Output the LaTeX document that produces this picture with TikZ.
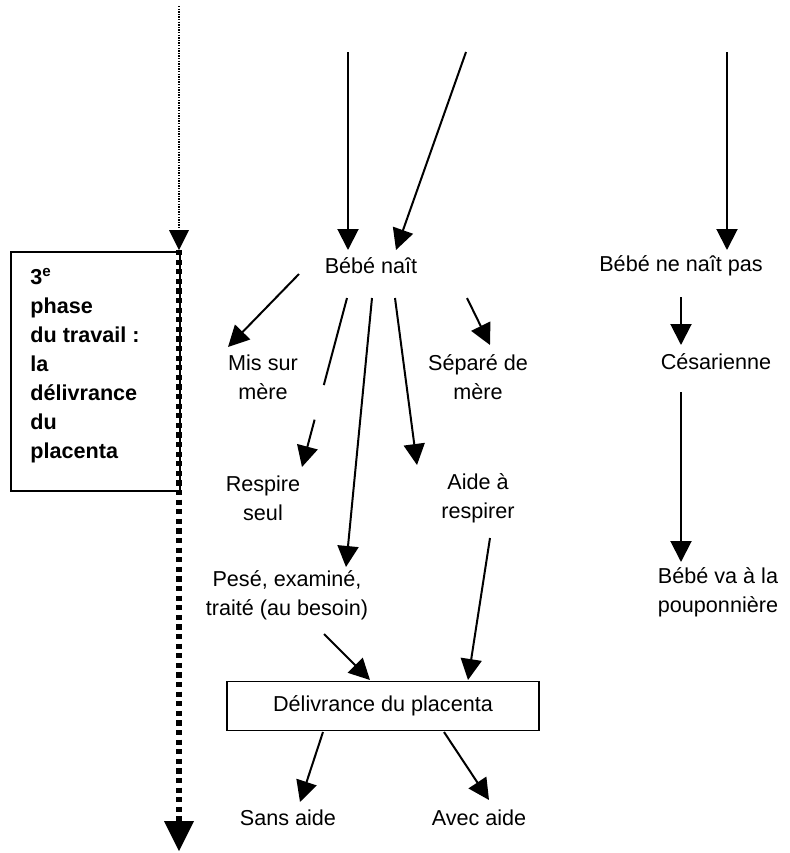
\documentclass[tikz,border=0pt]{standalone}
\usepackage{fontspec}
\setmainfont{Liberation Sans}
\usetikzlibrary{arrows.meta,calc}

\tikzset{
  lbl/.style={align=center, inner sep=0pt, font=\fontsize{10.8}{14.5}\selectfont},
  arr/.style={line width=1pt, -{Triangle[width=10.5pt,length=10.5pt]}},
}

\begin{document}
\begin{tikzpicture}[x=0.5pt, y=-0.5pt]
        \useasboundingbox (0,0) rectangle (790,853);

        % Time line: third phase of labour
        \coordinate (tl0) at (179,6);
        \coordinate (tl1) at (179,250);
        \coordinate (tl2) at (179,851);
        \draw[line width=0.9pt, dash pattern=on 0.7pt off 0.6pt,
              -{Triangle[width=10pt,length=10pt,line width=0pt]}] (tl0) -- (tl1);
        \node[draw, line width=0.8pt, anchor=north west, minimum width=84.5pt,
              minimum height=119.5pt, inner sep=0pt] (phase) at (10,251) {};
        \node[anchor=north west, align=left, inner sep=0pt,
              font=\bfseries\fontsize{10.8}{14.5}\selectfont] (phasetxt) at (30,268)
              {3\textsuperscript{e}\\phase\\du travail :\\la\\délivrance\\du\\placenta};
        \draw[line width=2.6pt, dash pattern=on 2.6pt off 2.2pt,
              -{Triangle[width=15pt,length=15pt,line width=0pt]}] (tl1) -- (tl2);

        % Nodes
        \node[lbl] (bn)    at (371,266) {Bébé naît};
        \node[lbl] (bnp)   at (681,266) {Bébé ne naît pas};
        \node[lbl] (mis)   at (263,377) {Mis sur\\mère};
        \node[lbl] (sep)   at (478,377) {Séparé de\\mère};
        \node[lbl] (cesar) at (716,362) {Césarienne};
        \node[lbl] (resp)  at (263,498) {Respire\\seul};
        \node[lbl] (aide)  at (478,498) {Aide à\\respirer};
        \node[lbl] (pese)  at (287,595) {Pesé, examiné,\\traité (au besoin)};
        \node[lbl] (poup)  at (718,592) {Bébé va à la\\pouponnière};
        \node[lbl, draw, line width=0.8pt, minimum width=156pt, minimum height=24.5pt]
              (deliv) at (383,706) {Délivrance du placenta};
        \node[lbl] (sans)  at (288,818) {Sans aide};
        \node[lbl] (avec)  at (479,818) {Avec aide};

        % Incoming arrows
        \coordinate (in1) at (348,52);
        \coordinate (in2) at (466,52);
        \coordinate (in3) at (727,52);
        \draw[arr] (in1) -- ([shift={(-23,-16)}]bn.center);
        \draw[arr] (in2) -- ([shift={(25,-16)}]bn.center);
        \draw[arr] (in3) -- ([shift={(46,-16)}]bnp.center);

        % Baby is born
        \draw[arr] ([shift={(-72,8)}]bn.center) -- ([shift={(-35,-30)}]mis.center);
        \draw[arr] ([shift={(96,32)}]bn.center) -- ([shift={(12,-32)}]sep.center);
        \coordinate (r0) at ([shift={(-24,32)}]bn.center);
        \coordinate (r1) at ([shift={(39,-31)}]resp.center);
        \draw[line width=1pt] (r0) -- ($(r0)!0.515!(r1)$);
        \draw[arr] ($(r0)!0.72!(r1)$) -- (r1);
        \draw[arr] ([shift={(1,32)}]bn.center) -- ([shift={(59,-28)}]pese.center);
        \draw[arr] ([shift={(24,32)}]bn.center) -- ([shift={(-61,-33)}]aide.center);

        % Baby is not born
        \draw[arr] ([shift={(0,31)}]bnp.center) -- ([shift={(-35,-17)}]cesar.center);
        \draw[arr] ([shift={(-35,30)}]cesar.center) -- ([shift={(-37,-30)}]poup.center);

        % Placenta
        \draw[arr] ([shift={(37,39)}]pese.center) -- ([shift={(-13,-26)}]deliv.center);
        \draw[arr] ([shift={(12,40)}]aide.center) -- ([shift={(85,-26)}]deliv.center);
        \draw[arr] ([shift={(-60,26)}]deliv.center) -- ([shift={(12,-16)}]sans.center);
        \draw[arr] ([shift={(61,26)}]deliv.center) -- ([shift={(10,-18)}]avec.center);
\end{tikzpicture}
\end{document}
